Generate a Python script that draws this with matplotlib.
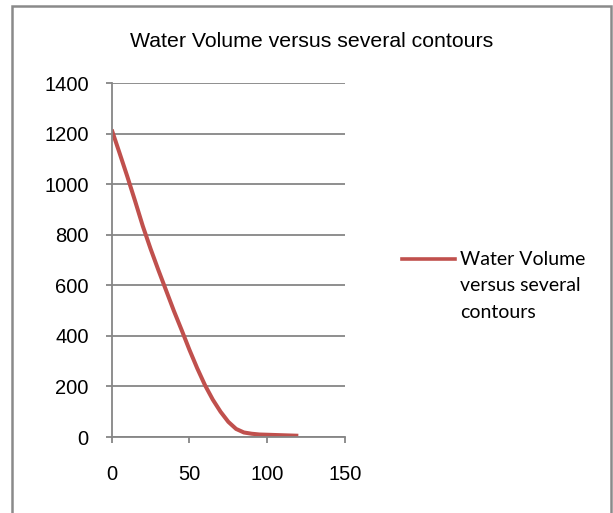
import matplotlib
matplotlib.use("Agg")
import matplotlib.pyplot as plt
from matplotlib.patches import Rectangle

# contour vs water volume
contour = [0, 5, 10, 15, 20, 25, 30, 35, 40, 45, 50, 55, 60,
           65, 70, 75, 80, 85, 90, 95, 100, 110, 120]
volume = [1217, 1125, 1032, 935, 835, 745, 661, 580, 499, 423, 345, 272, 205,
          148, 100, 60, 32, 18, 13, 10, 9, 7, 5]

title = "Water Volume versus several contours"
legend_lines = ["Water Volume", "versus several", "contours"]

grey = "#868686"
red = "#C0504D"

fig = plt.figure(figsize=(6.13, 5.13), dpi=100)
ax = fig.add_axes([0.1822, 0.1481, 0.3806, 0.6895])

ax.plot(contour, volume, color=red, lw=2.9, solid_capstyle="butt",
        solid_joinstyle="round")

ax.set_xlim(0, 150)
ax.set_ylim(0, 1400)
ax.set_xticks([0, 50, 100, 150])
ax.set_yticks(range(0, 1401, 200))
ax.grid(axis="y", color=grey, lw=1.3)
ax.set_axisbelow(True)
for s in ["top", "right"]:
    ax.spines[s].set_visible(False)
for s in ["left", "bottom"]:
    ax.spines[s].set_color(grey)
    ax.spines[s].set_linewidth(1.3)
ax.tick_params(axis="y", direction="out", length=4.5, width=1.3, color=grey,
               pad=12, labelsize=14.5, labelcolor="black")
ax.tick_params(axis="x", direction="out", length=4.5, width=1.3, color=grey,
               pad=16, labelsize=14.5, labelcolor="black")
for lab in ax.get_xticklabels() + ax.get_yticklabels():
    lab.set_fontfamily("Liberation Sans")

fig.text(0.508, 0.909, title, ha="center", va="baseline", fontsize=15.3,
         family="Liberation Sans")

# legend drawn by hand, Excel style
fig.lines.append(plt.Line2D([0.6553, 0.7423], [0.4945, 0.4945], color=red, lw=2.6,
                            transform=fig.transFigure))
for i, t in enumerate(legend_lines):
    fig.text(0.751, 1 - (265 + 26.3 * i) / 513, t, ha="left", va="baseline",
             fontsize=14, family="Lato")

fig.patches.append(Rectangle((0.019, -0.02), 0.978, 1.009, transform=fig.transFigure,
                             fill=False, edgecolor="#8a8a8a", lw=1.8))

fig.savefig("out.png", dpi=100)
